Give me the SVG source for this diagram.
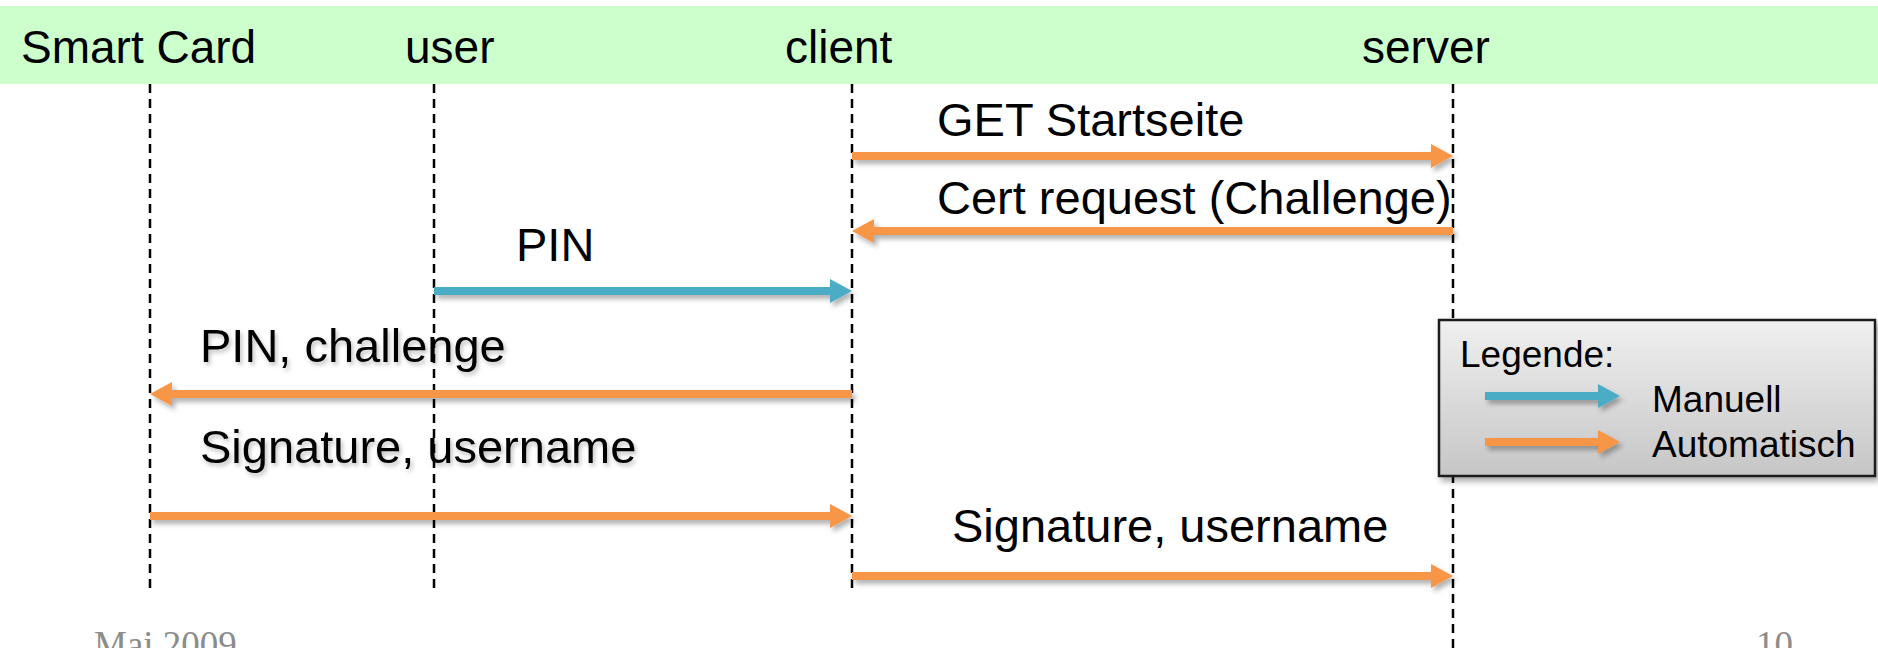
<svg xmlns="http://www.w3.org/2000/svg" width="1878" height="648" viewBox="0 0 1878 648">
<style>
  .hdr { font-family: "Liberation Sans", Arial, sans-serif; font-size: 46px; fill: #000; }
  .lbl { font-family: "Liberation Sans", Arial, sans-serif; font-size: 47px; fill: #000; }
  .leg { font-family: "Liberation Sans", Arial, sans-serif; font-size: 37px; fill: #000; }
  .foot { font-family: "Liberation Serif", "Times New Roman", serif; font-size: 37px; fill: #8c8c8c; }
  .life { stroke: #000; stroke-width: 2.5; stroke-dasharray: 9 6; fill: none; }
  .auto { stroke: #F79646; stroke-width: 8; fill: none; }
  .man { stroke: #4BACC6; stroke-width: 8; fill: none; }
</style>
<defs>
  <filter id="sh" filterUnits="userSpaceOnUse" x="0" y="0" width="1878" height="648">
    <feDropShadow dx="3" dy="4" stdDeviation="2.5" flood-color="#000" flood-opacity="0.3"/>
  </filter>
  <filter id="tsh" filterUnits="userSpaceOnUse" x="0" y="0" width="1878" height="648">
    <feDropShadow dx="2" dy="3" stdDeviation="2" flood-color="#000" flood-opacity="0.25"/>
  </filter>
  <filter id="boxsh" filterUnits="userSpaceOnUse" x="1400" y="300" width="478" height="200">
    <feDropShadow dx="3" dy="4" stdDeviation="3" flood-color="#000" flood-opacity="0.35"/>
  </filter>
  <marker id="hA" markerUnits="userSpaceOnUse" markerWidth="24" markerHeight="26" refX="0" refY="13" orient="auto" overflow="visible">
    <polygon points="0,1 22,13 0,25" fill="#F79646"/>
  </marker>
  <marker id="hM" markerUnits="userSpaceOnUse" markerWidth="24" markerHeight="26" refX="0" refY="13" orient="auto" overflow="visible">
    <polygon points="0,1 22,13 0,25" fill="#4BACC6"/>
  </marker>
  <linearGradient id="legfill" x1="0" y1="0" x2="0" y2="1">
    <stop offset="0" stop-color="#f0f0f0"/>
    <stop offset="1" stop-color="#c6c6c6"/>
  </linearGradient>
</defs>

<rect x="0" y="6" width="1878" height="78" fill="#CCFFCC"/>

<g id="messages-text">
  <text class="lbl" x="937" y="136">GET Startseite</text>
  <text class="lbl" x="937" y="214">Cert request (Challenge)</text>
  <text class="lbl" x="516" y="261">PIN</text>
  <text class="lbl" x="200" y="362" filter="url(#tsh)">PIN, challenge</text>
  <text class="lbl" x="200" y="463" filter="url(#tsh)">Signature, username</text>
  <text class="lbl" x="952" y="542">Signature, username</text>
</g>

<g id="node-smartcard">
  <text class="hdr" x="21" y="63">Smart Card</text>
  <line class="life" x1="150" y1="84" x2="150" y2="592"/>
</g>
<g id="node-user">
  <text class="hdr" x="405" y="63">user</text>
  <line class="life" x1="434" y1="84" x2="434" y2="592"/>
</g>
<g id="node-client">
  <text class="hdr" x="785" y="63">client</text>
  <line class="life" x1="852" y1="84" x2="852" y2="590"/>
</g>
<g id="node-server">
  <text class="hdr" x="1362" y="63">server</text>
  <line class="life" x1="1453" y1="84" x2="1453" y2="648"/>
</g>

<g id="connectors" filter="url(#sh)">
  <line class="auto" x1="852" y1="156" x2="1431" y2="156" marker-end="url(#hA)"/>
  <line class="auto" x1="1453" y1="231" x2="874" y2="231" marker-end="url(#hA)"/>
  <line class="man" x1="434" y1="291" x2="830" y2="291" marker-end="url(#hM)"/>
  <line class="auto" x1="852" y1="394" x2="172" y2="394" marker-end="url(#hA)"/>
  <line class="auto" x1="150" y1="516" x2="830" y2="516" marker-end="url(#hA)"/>
  <line class="auto" x1="852" y1="576" x2="1431" y2="576" marker-end="url(#hA)"/>
</g>

<g id="legend">
  <rect x="1439" y="320" width="436" height="156" fill="url(#legfill)" stroke="#1a1a1a" stroke-width="2.5" filter="url(#boxsh)"/>
  <text class="leg" x="1460" y="367">Legende:</text>
  <g filter="url(#sh)">
    <line class="man" x1="1485" y1="396" x2="1598" y2="396" marker-end="url(#hM)"/>
    <line class="auto" x1="1485" y1="442" x2="1598" y2="442" marker-end="url(#hA)"/>
  </g>
  <text class="leg" x="1652" y="412">Manuell</text>
  <text class="leg" x="1652" y="457">Automatisch</text>
</g>

<text class="foot" x="94" y="657">Mai 2009</text>
<text class="foot" x="1756" y="657">10</text>
</svg>
